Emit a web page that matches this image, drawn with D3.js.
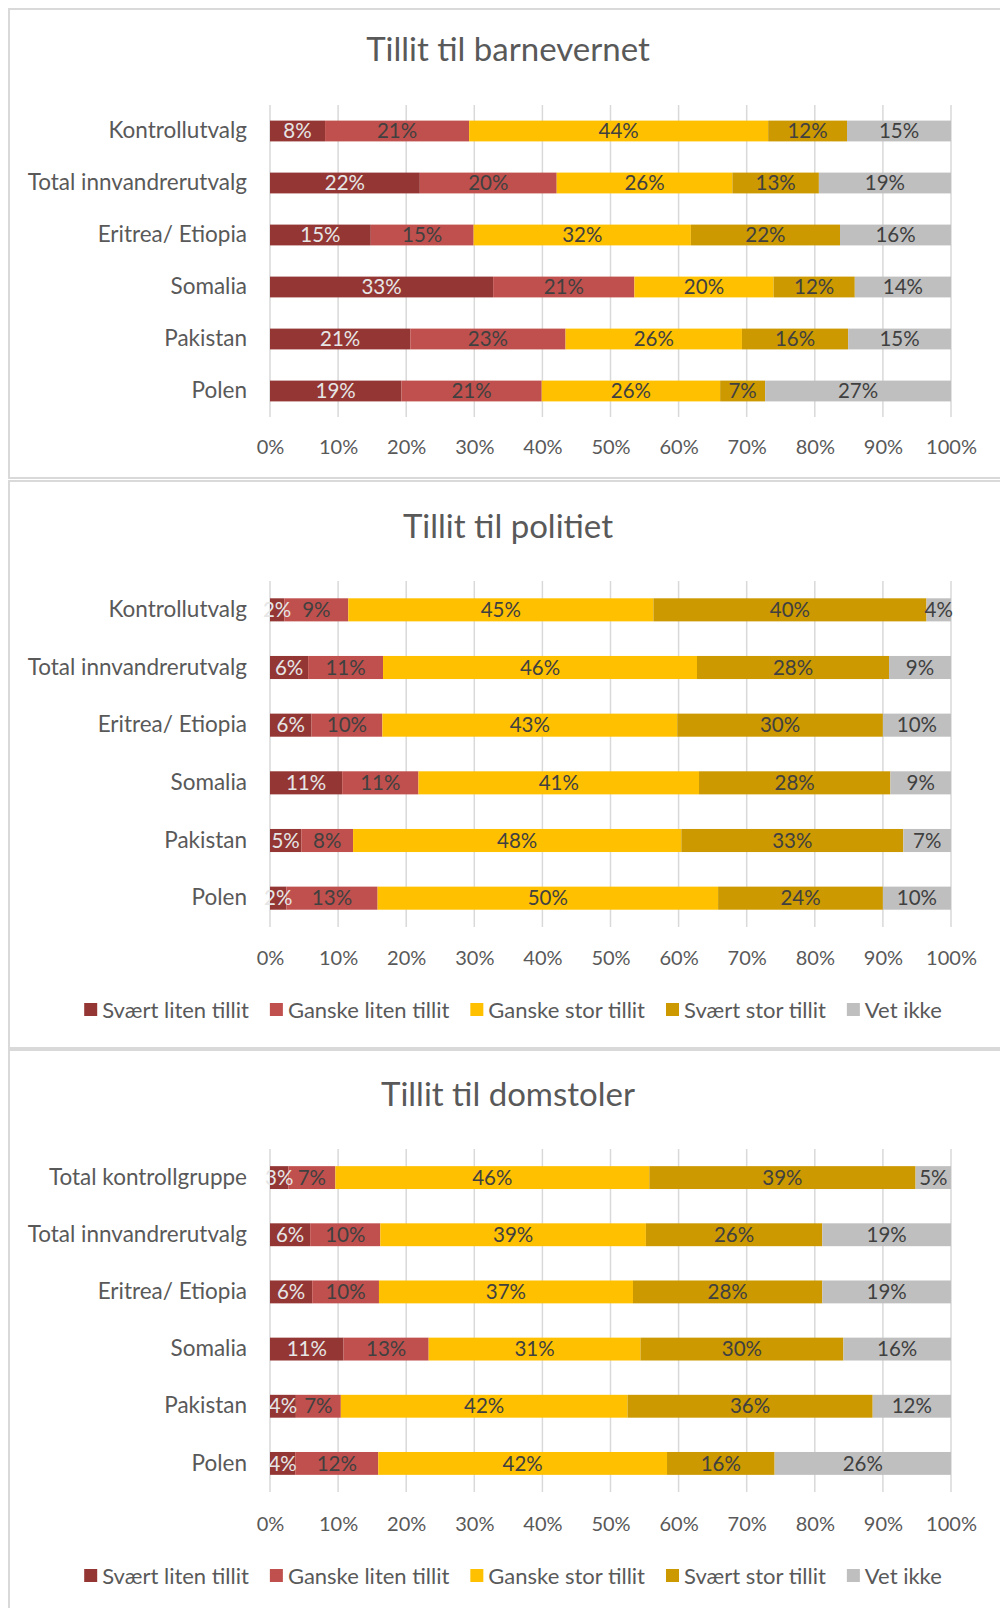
<!DOCTYPE html>
<html>
<head>
<meta charset="utf-8">
<script src="https://cdn.jsdelivr.net/npm/d3@7"></script>
<style>
  body { margin: 0; background: #fff; }
  text { font-family: Lato, "Open Sans", sans-serif; }
</style>
</head>
<body>
<div id="chart"></div>
<script>
// series (answer categories) and colours
const seriesNames = ["Svært liten tillit", "Ganske liten tillit", "Ganske stor tillit", "Svært stor tillit", "Vet ikke"];
const seriesColors = ["#943634", "#C0504D", "#FFC000", "#CC9900", "#BFBFBF"];
const tickValues = [0, 0.1, 0.2, 0.3, 0.4, 0.5, 0.6, 0.7, 0.8, 0.9, 1];

// groups
const groupsA = ["Kontrollutvalg", "Total innvandrerutvalg", "Eritrea/ Etiopia", "Somalia", "Pakistan", "Polen"];
const groupsB = ["Total kontrollgruppe", "Total innvandrerutvalg", "Eritrea/ Etiopia", "Somalia", "Pakistan", "Polen"];

// shares in percent, one row per group, in seriesNames order
const barnevernet = [
    [8.1, 21.2, 44.0, 11.6, 15.3],
    [22.0, 20.1, 25.8, 12.7, 19.4],
    [14.8, 15.1, 31.9, 21.9, 16.3],
    [32.7, 20.7, 20.4, 11.9, 14.1],
    [20.6, 22.8, 25.9, 15.6, 15.1],
    [19.3, 20.6, 26.2, 6.6, 27.3]
];
const politiet = [
    [2.1, 9.4, 44.8, 40.1, 3.6],
    [5.6, 11.0, 46.1, 28.2, 9.1],
    [6.1, 10.4, 43.3, 30.2, 10.0],
    [10.6, 11.2, 41.2, 28.1, 8.9],
    [4.6, 7.6, 48.2, 32.6, 7.0],
    [2.4, 13.4, 50.0, 24.2, 10.0]
];
const domstoler = [
    [2.7, 6.9, 46.1, 39.1, 5.2],
    [5.9, 10.3, 39.0, 25.9, 18.9],
    [6.2, 9.8, 37.3, 27.8, 18.9],
    [10.8, 12.5, 31.1, 29.8, 15.8],
    [3.8, 6.6, 42.1, 36.0, 11.5],
    [3.7, 12.2, 42.4, 15.8, 25.9]
];

const width = 1000, height = 1608;
const textColor = "#595959";

const svg = d3.select("#chart")
    .append("svg")
    .attr("width", width)
    .attr("height", height);

const panels = [
    { title: "Tillit til barnevernet", groups: groupsA, values: barnevernet,
      boxTop: 9, boxBottom: 478, titleY: 49, plotTop: 105, plotBottom: 417, tickY: 447, legendY: null },
    { title: "Tillit til politiet", groups: groupsA, values: politiet,
      boxTop: 481, boxBottom: 1048, titleY: 526, plotTop: 581, plotBottom: 927, tickY: 958, legendY: 1010 },
    { title: "Tillit til domstoler", groups: groupsB, values: domstoler,
      boxTop: 1050, boxBottom: 1640, titleY: 1094, plotTop: 1149, plotBottom: 1492, tickY: 1524, legendY: 1576 }
];

panels.forEach(drawPanel);

function drawPanel(p) {
    const g = svg.append("g");

    // frame
    g.append("rect")
        .attr("x", 9).attr("y", p.boxTop)
        .attr("width", 1000).attr("height", p.boxBottom - p.boxTop)
        .attr("fill", "none")
        .attr("stroke", "#D9D9D9")
        .attr("stroke-width", 2);

    g.append("text")
        .attr("x", 508).attr("y", p.titleY)
        .attr("dy", "0.35em")
        .attr("text-anchor", "middle")
        .attr("font-size", 33)
        .attr("fill", textColor)
        .text(p.title);

    const x = d3.scaleLinear().domain([0, 1]).range([270, 951]);
    const y = d3.scaleBand()
        .domain(p.groups)
        .range([p.plotTop, p.plotBottom])
        .paddingInner(0.6)
        .paddingOuter(0.3);

    // gridlines
    g.append("g")
        .selectAll("line")
        .data(tickValues)
        .join("line")
        .attr("x1", d => x(d)).attr("x2", d => x(d))
        .attr("y1", p.plotTop).attr("y2", p.plotBottom)
        .attr("stroke", "#D9D9D9")
        .attr("stroke-width", 1.5);

    // tick labels
    const xAxis = g.append("g")
        .attr("transform", `translate(0,${p.tickY})`)
        .call(d3.axisBottom(x).tickValues(tickValues).tickFormat(d3.format(".0%")).tickSize(0).tickPadding(0));
    xAxis.select(".domain").remove();
    xAxis.selectAll("text")
        .attr("dy", "0.35em")
        .attr("font-size", 20)
        .attr("font-family", "Lato")
        .attr("fill", textColor);

    // category labels
    const yAxis = g.append("g")
        .attr("transform", "translate(247,0)")
        .call(d3.axisLeft(y).tickSize(0).tickPadding(0));
    yAxis.select(".domain").remove();
    yAxis.selectAll("text")
        .attr("font-size", 22.5)
        .attr("font-family", "Lato")
        .attr("fill", textColor);

    // stacked bars, normalised to 100%
    const rows = p.groups.map((grp, i) => {
        const r = { group: grp };
        seriesNames.forEach((s, j) => r[s] = p.values[i][j]);
        return r;
    });
    const stacked = d3.stack()
        .keys(seriesNames)
        .offset(d3.stackOffsetExpand)(rows);

    g.append("g")
        .selectAll("g")
        .data(stacked)
        .join("g")
        .attr("fill", (d, i) => seriesColors[i])
        .selectAll("rect")
        .data(d => d)
        .join("rect")
        .attr("x", d => x(d[0]))
        .attr("y", d => y(d.data.group))
        .attr("width", d => x(d[1]) - x(d[0]))
        .attr("height", y.bandwidth());

    // value labels, on top of all bars
    const segments = stacked.flatMap((s, i) => s.map(v => ({ v, i })));
    g.append("g")
        .selectAll("text")
        .data(segments)
        .join("text")
        .attr("x", d => (x(d.v[0]) + x(d.v[1])) / 2)
        .attr("y", d => y(d.v.data.group) + y.bandwidth() / 2)
        .attr("dy", "0.35em")
        .attr("text-anchor", "middle")
        .attr("font-size", 20.5)
        .attr("fill", d => d.i === 0 ? "#E6E6E6" : "#404040")
        .text(d => d3.format(".0%")(d.v[1] - d.v[0]));

    // legend
    if (p.legendY !== null) {
        const legend = g.append("g");
        const items = legend.selectAll("g")
            .data(seriesNames)
            .join("g");
        items.append("rect")
            .attr("y", p.legendY - 7)
            .attr("width", 13).attr("height", 13)
            .attr("fill", (d, i) => seriesColors[i]);
        items.append("text")
            .attr("x", 18)
            .attr("y", p.legendY)
            .attr("dy", "0.35em")
            .attr("font-size", 22)
            .attr("fill", textColor)
            .text(d => d);
        let pos = 0;
        items.each(function() {
            const w = d3.select(this).select("text").node().getComputedTextLength();
            d3.select(this).attr("transform", `translate(${pos},0)`);
            pos += 18 + w + 21;
        });
        const total = pos - 21;
        legend.attr("transform", `translate(${513 - total / 2},0)`);
    }
}
</script>
</body>
</html>
